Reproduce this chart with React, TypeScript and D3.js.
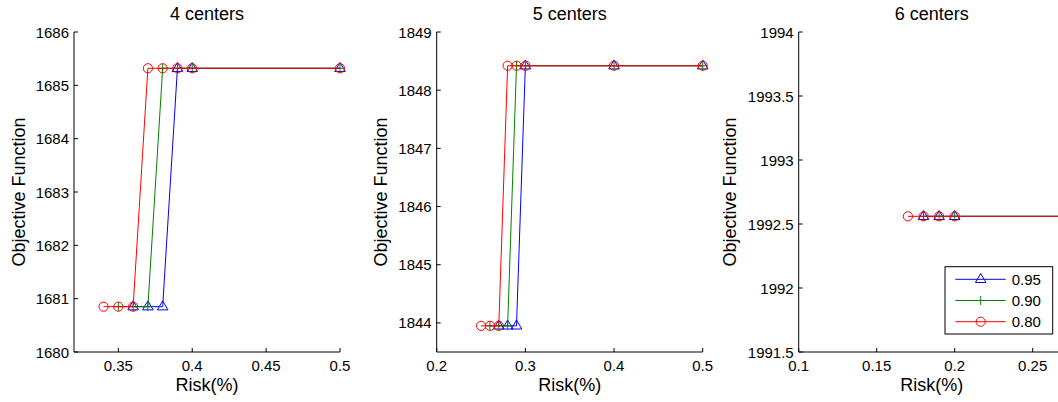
import React from 'react';
import * as d3 from 'd3';

// series (confidence levels)
const seriesNames = ['0.95', '0.90', '0.80'];
const seriesColors = ['#0000ff', '#008000', '#ff0000'];
const seriesMarkers = ['triangle', 'plus', 'circle'];

// 4 centers
const risk4 = [
  [0.36, 0.37, 0.38, 0.39, 0.4, 0.5],
  [0.35, 0.36, 0.37, 0.38, 0.39, 0.4, 0.5],
  [0.34, 0.35, 0.36, 0.37, 0.38, 0.39, 0.4, 0.5],
];
const obj4 = [
  [1680.85, 1680.85, 1680.85, 1685.32, 1685.32, 1685.32],
  [1680.85, 1680.85, 1680.85, 1685.32, 1685.32, 1685.32, 1685.32],
  [1680.85, 1680.85, 1680.85, 1685.32, 1685.32, 1685.32, 1685.32, 1685.32],
];

// 5 centers
const risk5 = [
  [0.27, 0.28, 0.29, 0.3, 0.4, 0.5],
  [0.26, 0.27, 0.28, 0.29, 0.3, 0.4, 0.5],
  [0.25, 0.26, 0.27, 0.28, 0.29, 0.3, 0.4, 0.5],
];
const obj5 = [
  [1843.95, 1843.95, 1843.95, 1848.42, 1848.42, 1848.42],
  [1843.95, 1843.95, 1843.95, 1848.42, 1848.42, 1848.42, 1848.42],
  [1843.95, 1843.95, 1843.95, 1848.42, 1848.42, 1848.42, 1848.42, 1848.42],
];

// 6 centers
const risk6 = [
  [0.18, 0.19, 0.2, 0.3, 0.4, 0.5],
  [0.18, 0.19, 0.2, 0.3, 0.4, 0.5],
  [0.17, 0.18, 0.19, 0.2, 0.3, 0.4, 0.5],
];
const obj6 = [
  [1992.56, 1992.56, 1992.56, 1992.56, 1992.56, 1992.56],
  [1992.56, 1992.56, 1992.56, 1992.56, 1992.56, 1992.56],
  [1992.56, 1992.56, 1992.56, 1992.56, 1992.56, 1992.56, 1992.56],
];

const titles = ['4 centers', '5 centers', '6 centers'];
const xDomains = [[0.32, 0.5], [0.2, 0.5], [0.1, 0.3]];
const yDomains = [[1680, 1686], [1843.5, 1849], [1991.5, 1994]];
const xTickValues = [
  [0.35, 0.4, 0.45, 0.5],
  [0.2, 0.3, 0.4, 0.5],
  [0.1, 0.15, 0.2, 0.25],
];
const yTickValues = [
  [1680, 1681, 1682, 1683, 1684, 1685, 1686],
  [1844, 1845, 1846, 1847, 1848, 1849],
  [1991.5, 1992, 1992.5, 1993, 1993.5, 1994],
];

const W = 1058;
const H = 402;
const FONT = '"Liberation Sans", Arial, Helvetica, sans-serif';

// panel layout (pixels); the third axes runs past the right edge of the picture
const layout = [
  { left: 74, right: 340, ylab: 25 },
  { left: 436.7, right: 702.7, ylab: 387 },
  { left: 798.7, right: 1110.7, ylab: 736 },
];
const top = 32;
const bottom = 352;

const fmt = (v: number) => String(+v.toFixed(2));

function Marker({ kind, x, y, color }: { kind: string; x: number; y: number; color: string }) {
  if (kind === 'circle') {
    return <circle cx={x} cy={y} r={4.6} fill="none" stroke={color} strokeWidth={1} />;
  }
  if (kind === 'plus') {
    return (
      <path d={`M${x - 4.5},${y}H${x + 4.5}M${x},${y - 4.5}V${y + 4.5}`} stroke={color} strokeWidth={1} fill="none" />
    );
  }
  return (
    <path d={`M${x},${y - 5.8}L${x + 5.3},${y + 3.2}L${x - 5.3},${y + 3.2}Z`} stroke={color} strokeWidth={1} fill="none" />
  );
}

function Panel({ i }: { i: number }) {
  const { left, right, ylab } = layout[i];
  const x = d3.scaleLinear().domain(xDomains[i]).range([left, right]);
  const y = d3.scaleLinear().domain(yDomains[i]).range([bottom, top]);
  const risks = [risk4, risk5, risk6][i];
  const objs = [obj4, obj5, obj6][i];
  const line = d3.line<[number, number]>().x((d) => x(d[0])).y((d) => y(d[1]));
  // visible centre (third panel is cropped by the picture)
  const cx = (left + Math.min(right, left + 266)) / 2;

  return (
    <g>
      {/* series */}
      {seriesNames.map((_, s) => {
        const pts = risks[s].map((r, k) => [r, objs[s][k]] as [number, number]);
        return (
          <g key={s}>
            <path d={line(pts) || ''} fill="none" stroke={seriesColors[s]} strokeWidth={1} />
            {pts.map((p, k) => (
              <Marker key={k} kind={seriesMarkers[s]} x={x(p[0])} y={y(p[1])} color={seriesColors[s]} />
            ))}
          </g>
        );
      })}

      {/* axes */}
      <line x1={left} x2={right} y1={bottom} y2={bottom} stroke="#000" />
      <line x1={left} x2={left} y1={top} y2={bottom} stroke="#000" />
      {xTickValues[i].map((t) => (
        <g key={t}>
          <line x1={x(t)} x2={x(t)} y1={bottom} y2={bottom - 4} stroke="#000" />
          <text x={x(t)} y={371} textAnchor="middle" fontSize={15} fontFamily={FONT}>
            {fmt(t)}
          </text>
        </g>
      ))}
      {yTickValues[i].map((t) => (
        <g key={t}>
          <line x1={left} x2={left + 4} y1={y(t)} y2={y(t)} stroke="#000" />
          <text x={left - 5} y={y(t) + 5.5} textAnchor="end" fontSize={15} fontFamily={FONT}>
            {fmt(t)}
          </text>
        </g>
      ))}

      <text x={cx} y={19.5} textAnchor="middle" fontSize={18} fontFamily={FONT}>
        {titles[i]}
      </text>
      <text x={cx} y={391} textAnchor="middle" fontSize={18} fontFamily={FONT}>
        Risk(%)
      </text>
      <text
        transform={`translate(${ylab},${(top + bottom) / 2}) rotate(-90)`}
        textAnchor="middle"
        fontSize={18}
        fontFamily={FONT}
      >
        Objective Function
      </text>
    </g>
  );
}

function Legend() {
  const bx = 945;
  const by = 266.7;
  const rows = [279.3, 300.5, 321.7];
  return (
    <g>
      <rect x={bx} y={by} width={107.7} height={67.3} fill="#fff" stroke="#000" strokeWidth={1} />
      {seriesNames.map((name, s) => (
        <g key={name}>
          <line x1={955.3} x2={1005.7} y1={rows[s]} y2={rows[s]} stroke={seriesColors[s]} />
          <Marker kind={seriesMarkers[s]} x={980.7} y={rows[s]} color={seriesColors[s]} />
          <text x={1011.7} y={rows[s] + 5.5} fontSize={15} fontFamily={FONT}>
            {name}
          </text>
        </g>
      ))}
    </g>
  );
}

export default function App() {
  return (
    <svg
      width={W}
      height={H}
      viewBox={`0 0 ${W} ${H}`}
      style={{ position: 'absolute', left: 0, top: 0, background: '#fff' }}
    >
      <rect width={W} height={H} fill="#fff" />
      {[0, 1, 2].map((i) => (
        <Panel key={i} i={i} />
      ))}
      <Legend />
    </svg>
  );
}
